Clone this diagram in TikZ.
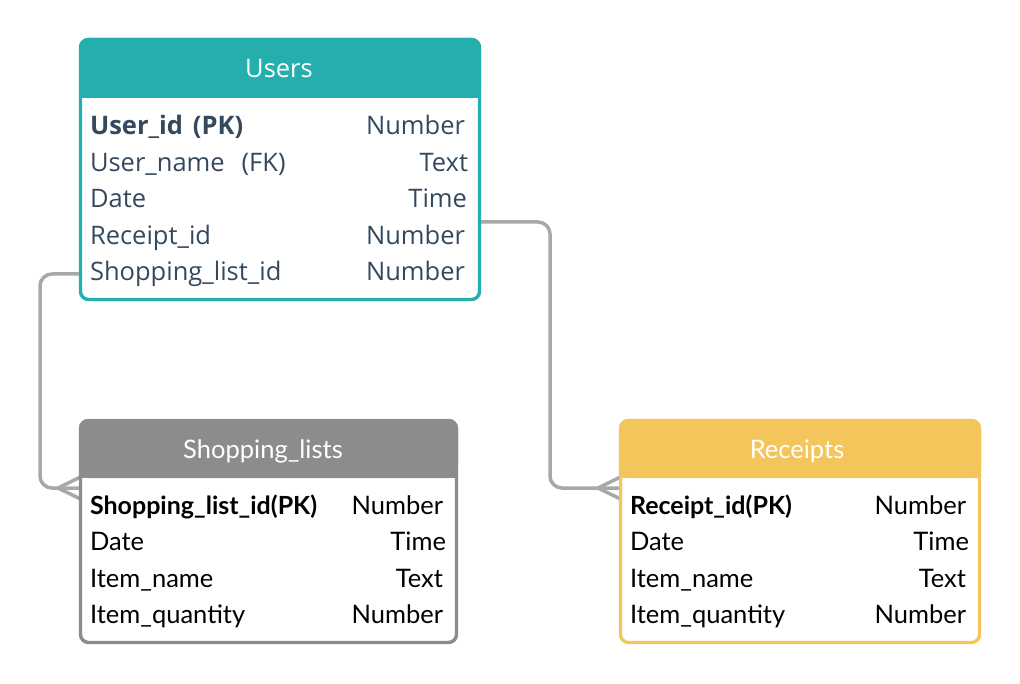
\documentclass[tikz,border=0pt]{standalone}
\usepackage{fontspec}
\setmainfont{Lato}
\newfontfamily\usersfont{Open Sans}
\usetikzlibrary{backgrounds}
\definecolor{cUsers}{HTML}{24AFAE}
\definecolor{cShop}{HTML}{8C8C8C}
\definecolor{cRec}{HTML}{F3C55A}
\definecolor{cConn}{HTML}{A8A8A8}
\definecolor{cSlate}{HTML}{34495E}
\begin{document}
\begin{tikzpicture}[x=1pt,y=-1pt,
  frame/.style={draw, line width=3.4pt, rounded corners=8pt, inner sep=0pt, outer sep=0pt},
  rowtxt/.style={font=\fontsize{25.5}{30}\selectfont, inner sep=0pt, outer sep=0pt},
  urowtxt/.style={font=\usersfont\fontsize{25.5}{30}\selectfont, inner sep=0pt, outer sep=0pt, text=cSlate},
  lcell/.style={rowtxt, anchor=base west},
  rcell/.style={rowtxt, anchor=base east},
  ulcell/.style={urowtxt, anchor=base west},
  urcell/.style={urowtxt, anchor=base east},
  title/.style={rowtxt, anchor=base, text=white},
  utitle/.style={urowtxt, anchor=base, text=white},
  conn/.style={draw=cConn, line width=3.5pt, line cap=round, line join=round},
  connbend/.style={conn, rounded corners=12pt}]
\useasboundingbox (0,0) rectangle (1020,684);

% ---------- Users ----------
\fill[cUsers, rounded corners=9pt] (79,38) rectangle (481,98);
\fill[cUsers] (79,80) rectangle (481,98);
\node[frame, draw=cUsers, minimum width=399pt, minimum height=260pt] (users) at (280,169.5) {};
\node[utitle] (usersT) at (279,78) {Users};
\node[ulcell] (u1) at (90,135) {\bfseries User\_id\hspace{10pt}(PK)};
\node[urcell] (u1t) at (465,135) {Number};
\node[ulcell] (u2) at (90,171.5) {User\_name\hspace{17pt}(FK)};
\node[urcell] (u2t) at (468,171.5) {Text};
\node[ulcell] (u3) at (90,208) {Date};
\node[urcell] (u3t) at (467,208) {Time};
\node[ulcell] (u4) at (90,244.5) {Receipt\_id};
\node[urcell] (u4t) at (465,244.5) {Number};
\node[ulcell] (u5) at (90,281) {Shopping\_list\_id};
\node[urcell] (u5t) at (465,281) {Number};

% ---------- Shopping_lists ----------
\fill[cShop, rounded corners=9pt] (79,419) rectangle (458,478);
\fill[cShop] (79,460) rectangle (458,478);
\node[frame, draw=cShop, minimum width=376pt, minimum height=222pt] (shop) at (268.5,531.5) {};
\node[title] (shopT) at (263,458) {Shopping\_lists};
\node[lcell] (s1) at (90,514) {\fontsize{25}{30}\selectfont\bfseries Shopping\_list\_id(PK)};
\node[rcell] (s1t) at (443,514) {Number};
\node[lcell] (s2) at (90,550.5) {Date};
\node[rcell] (s2t) at (446,550.5) {Time};
\node[lcell] (s3) at (90,587) {Item\_name};
\node[rcell] (s3t) at (443,587) {Text};
\node[lcell] (s4) at (90,623.5) {Item\_quantity};
\node[rcell] (s4t) at (443,623.5) {Number};

% ---------- Receipts ----------
\fill[cRec, rounded corners=9pt] (619,419) rectangle (981,478);
\fill[cRec] (619,460) rectangle (981,478);
\node[frame, draw=cRec, minimum width=359pt, minimum height=222pt] (rec) at (800,531.5) {};
\node[title] (recT) at (797,458) {Receipts};
\node[lcell] (r1) at (630,514) {\fontsize{25}{30}\selectfont\bfseries Receipt\_id(PK)};
\node[rcell] (r1t) at (966,514) {Number};
\node[lcell] (r2) at (630,550.5) {Date};
\node[rcell] (r2t) at (969,550.5) {Time};
\node[lcell] (r3) at (630,587) {Item\_name};
\node[rcell] (r3t) at (966,587) {Text};
\node[lcell] (r4) at (630,623.5) {Item\_quantity};
\node[rcell] (r4t) at (966,623.5) {Number};

% ---------- connectors ----------
\begin{scope}[on background layer]
\draw[connbend] (users.west |- 0,274) -- (40,274) -- (40,488) -- (shop.west |- 0,488);
\draw[conn] (shop.west |- 0,477) -- (58,488) -- (shop.west |- 0,499);
\draw[connbend] (users.east |- 0,222) -- (550,222) -- (550,488) -- (rec.west |- 0,488);
\draw[conn] (rec.west |- 0,477) -- (598,488) -- (rec.west |- 0,499);
\end{scope}
\end{tikzpicture}
\end{document}
